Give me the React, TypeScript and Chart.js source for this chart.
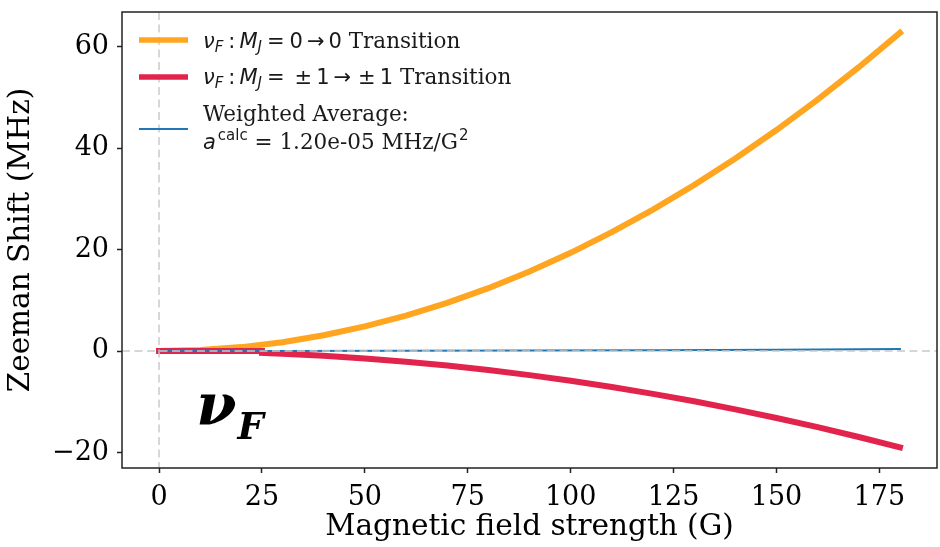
import React, { useEffect, useRef } from "react";
import { Chart, registerables } from "chart.js";

Chart.register(...registerables);

// ---- data ----
const orangeX = [0, 10, 20, 30, 40, 50, 60, 70, 80, 90, 100, 110, 120, 130, 140, 150, 160, 170, 180];
const orangeY = [0, 0.19, 0.77, 1.74, 3.1, 4.84, 6.97, 9.48, 12.38, 15.67, 19.35, 23.41, 27.86, 32.7, 37.93, 43.54, 49.54, 55.92, 62.7];

const redX = [0, 25, 25, 30, 40, 50, 60, 70, 80, 90, 100, 110, 120, 130, 140, 150, 160, 170, 180];
const redY = [0, 0, -0.37, -0.53, -0.94, -1.47, -2.11, -2.87, -3.75, -4.75, -5.86, -7.09, -8.44, -9.9, -11.49, -13.19, -15.0, -16.94, -18.99];

const blueX = [0, 30, 60, 90, 120, 150, 180];
const blueY = [0, 0.011, 0.043, 0.097, 0.173, 0.27, 0.389];

const xTicks = [0, 25, 50, 75, 100, 125, 150, 175];
const yTicks = [-20, 0, 20, 40, 60];
const xRange = [-9, 189];
const yRange = [-23.05, 66.8];

const seriesLabels = [
  "νF : MJ = 0 → 0 Transition",
  "νF : MJ = ±1 → ±1 Transition",
  "Weighted Average: a^calc = 1.20e-05 MHz/G^2",
];
const xTitle = "Magnetic field strength (G)";
const yTitle = "Zeeman Shift (MHz)";

const ORANGE = "#FFA51F";
const RED = "#E2244D";
const BLUE = "#1F77B4";

const SERIF = "'DejaVu Serif', serif";
const SANS = "'DejaVu Sans', sans-serif";

type Run = { t: string; font: string; dy?: number; pad?: number };

function drawRuns(ctx: CanvasRenderingContext2D, x: number, y: number, runs: Run[]) {
  let cx = x;
  for (const r of runs) {
    cx += r.pad || 0;
    ctx.font = r.font;
    ctx.fillText(r.t, cx, y + (r.dy || 0));
    cx += ctx.measureText(r.t).width;
  }
}

const decorPlugin = {
  id: "decor",
  afterDatasetsDraw(chart: any) {
    const { ctx, chartArea, scales } = chart;
    const { left, right, top, bottom } = chartArea;
    const x0 = scales.x.getPixelForValue(0);
    const y0 = scales.y.getPixelForValue(0);
    ctx.save();
    ctx.strokeStyle = "rgba(200,200,200,0.75)";
    ctx.lineWidth = 2;
    ctx.setLineDash([8, 4.5]);
    ctx.beginPath();
    ctx.moveTo(x0, top);
    ctx.lineTo(x0, bottom);
    ctx.moveTo(left, y0);
    ctx.lineTo(right, y0);
    ctx.stroke();
    ctx.restore();
  },
  afterDraw(chart: any) {
    const { ctx, chartArea } = chart;
    const { left, right, top, bottom } = chartArea;
    const w = right - left;
    const h = bottom - top;
    ctx.save();
    // frame
    ctx.strokeStyle = "#222";
    ctx.lineWidth = 1.5;
    ctx.setLineDash([]);
    ctx.strokeRect(left, top, w, h);

    // big nu_F label
    ctx.fillStyle = "#000";
    ctx.textBaseline = "alphabetic";
    const lx = left + 0.091 * w;
    const ly = top + 0.905 * h;
    drawRuns(ctx, lx, ly, [
      { t: "ν", font: `italic bold 58px ${SERIF}` },
      { t: "F", font: `italic bold 37px ${SERIF}`, dy: 14, pad: 1 },
    ]);

    // legend
    const sx1 = left + 17;
    const sx2 = left + 66;
    const tx = left + 81;
    const fs = 21;
    const ss = 15;
    const mI = `italic ${fs}px ${SANS}`;
    const mIs = `italic ${ss}px ${SANS}`;
    const mU = `${fs}px ${SANS}`;
    const mUs = `${ss}px ${SANS}`;
    const sf = `${fs + 0.5}px ${SERIF}`;

    const swatch = (y: number, color: string, lw: number) => {
      ctx.strokeStyle = color;
      ctx.lineWidth = lw;
      ctx.lineCap = "butt";
      ctx.beginPath();
      ctx.moveTo(sx1, y);
      ctx.lineTo(sx2, y);
      ctx.stroke();
    };
    swatch(top + 28, ORANGE, 5.5);
    swatch(top + 65, RED, 5.5);
    swatch(top + 117, BLUE, 2);

    ctx.fillStyle = "#1a1a1a";
    drawRuns(ctx, tx, top + 36, [
      { t: "ν", font: mI },
      { t: "F", font: mIs, dy: 4 },
      { t: ":", font: mU, pad: 5 },
      { t: "M", font: mI, pad: 4 },
      { t: "J", font: mIs, dy: 4 },
      { t: "=", font: mU, pad: 5 },
      { t: "0", font: mU, pad: 5 },
      { t: "→", font: mU, pad: 4 },
      { t: "0", font: mU, pad: 4 },
      { t: " Transition", font: sf },
    ]);
    drawRuns(ctx, tx, top + 72, [
      { t: "ν", font: mI },
      { t: "F", font: mIs, dy: 4 },
      { t: ":", font: mU, pad: 5 },
      { t: "M", font: mI, pad: 4 },
      { t: "J", font: mIs, dy: 4 },
      { t: "=", font: mU, pad: 5 },
      { t: "±", font: mU, pad: 10 },
      { t: "1", font: mU, pad: 4 },
      { t: "→", font: mU, pad: 4 },
      { t: "±", font: mU, pad: 7 },
      { t: "1", font: mU, pad: 4 },
      { t: " Transition", font: sf },
    ]);
    drawRuns(ctx, tx, top + 109, [{ t: "Weighted Average:", font: sf }]);
    drawRuns(ctx, tx, top + 137, [
      { t: "a", font: mI },
      { t: "calc", font: mUs, dy: -9, pad: 2 },
      { t: " = 1.20e-05 MHz/G", font: sf },
      { t: "2", font: mUs, dy: -9, pad: 1 },
    ]);
    ctx.restore();
  },
};

const pts = (xs: number[], ys: number[]) => xs.map((x, i) => ({ x, y: ys[i] }));

export default function App() {
  const ref = useRef<HTMLCanvasElement | null>(null);
  useEffect(() => {
    if (!ref.current) return;
    const fmt = (v: number) => (v < 0 ? "\u2212" + Math.abs(v) : String(v));
    const chart = new Chart(ref.current, {
      type: "line",
      data: {
        datasets: [
          {
            label: seriesLabels[0],
            data: pts(orangeX, orangeY),
            borderColor: ORANGE,
            borderWidth: 6,
            pointRadius: 0,
            borderCapStyle: "square",
            order: 3,
          },
          {
            label: seriesLabels[1],
            data: pts(redX, redY),
            borderColor: RED,
            borderWidth: 6,
            pointRadius: 0,
            borderCapStyle: "square",
            order: 2,
          },
          {
            label: seriesLabels[2],
            data: pts(blueX, blueY),
            borderColor: BLUE,
            borderWidth: 2,
            pointRadius: 0,
            borderCapStyle: "square",
            order: 1,
          },
        ],
      },
      options: {
        animation: false,
        responsive: true,
        maintainAspectRatio: false,
        devicePixelRatio: 1,
        layout: { padding: { top: 12, right: 3, left: 0, bottom: 0 } },
        plugins: { legend: { display: false }, tooltip: { enabled: false } },
        scales: {
          x: {
            type: "linear",
            min: xRange[0],
            max: xRange[1],
            afterBuildTicks: (s: any) => {
              s.ticks = xTicks.map((v) => ({ value: v }));
            },
            afterFit: (s: any) => {
              s.height = 79;
              s.paddingLeft = 0;
              s.paddingRight = 0;
            },
            grid: {
              drawOnChartArea: false,
              color: "rgba(0,0,0,0)",
              tickColor: "#222",
              tickLength: 5,
              tickWidth: 1.5,
            },
            border: { display: false },
            ticks: {
              color: "#000",
              font: { family: SERIF, size: 27 },
              padding: 9,
              maxRotation: 0,
              callback: (v: any) => fmt(Number(v)),
            },
            title: {
              display: true,
              text: xTitle,
              color: "#000",
              font: { family: SERIF, size: 29.5 },
              padding: { top: 0, bottom: 2 },
            },
          },
          y: {
            type: "linear",
            min: yRange[0],
            max: yRange[1],
            afterBuildTicks: (s: any) => {
              s.ticks = yTicks.map((v) => ({ value: v }));
            },
            afterFit: (s: any) => {
              s.width = 122;
              s.paddingTop = 0;
              s.paddingBottom = 0;
            },
            grid: {
              drawOnChartArea: false,
              color: "rgba(0,0,0,0)",
              tickColor: "#222",
              tickLength: 5,
              tickWidth: 1.5,
            },
            border: { display: false },
            ticks: {
              color: "#000",
              font: { family: SERIF, size: 27 },
              padding: 8,
              callback: (v: any) => fmt(Number(v)),
            },
            title: {
              display: true,
              text: yTitle,
              color: "#000",
              font: { family: SERIF, size: 29.5 },
              padding: { top: 4, bottom: 0 },
            },
          },
        },
      },
      plugins: [decorPlugin],
    } as any);
    return () => chart.destroy();
  }, []);
  return (
    <div style={{ position: "absolute", left: 0, top: 0, width: 940, height: 547, background: "#fff" }}>
      <canvas ref={ref} />
    </div>
  );
}
